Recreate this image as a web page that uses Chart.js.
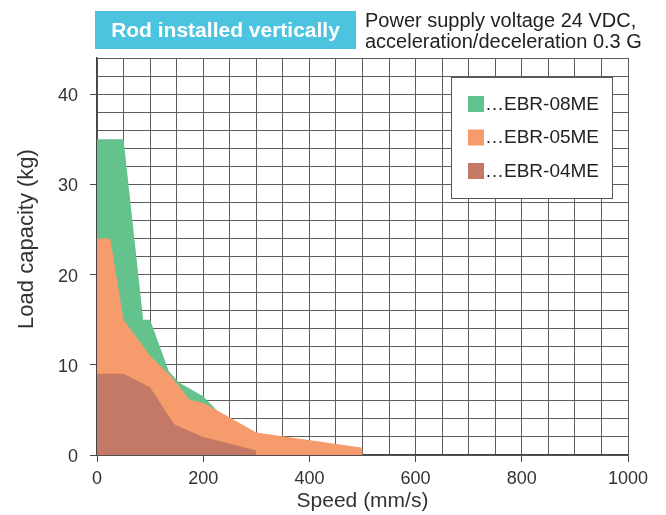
<!DOCTYPE html>
<html>
<head>
<meta charset="utf-8">
<script src="https://cdn.jsdelivr.net/npm/chart.js@4"></script>
<style>
  html, body { margin: 0; padding: 0; background: #fff; }
  #wrap { position: relative; width: 666px; height: 515px; }
  canvas { display: block; }
</style>
</head>
<body>
<div id="wrap"><canvas id="c" width="666" height="515"></canvas></div>
<script>
// ---- data ----
const seriesLabels = ['…EBR-08ME', '…EBR-05ME', '…EBR-04ME'];
const speed08 = [0, 50, 87, 100, 135, 155, 200, 225, 250];
const load08  = [35, 35, 15, 15, 9.3, 8, 6.5, 5, 4];
const speed05 = [0, 25, 50, 100, 140, 175, 200, 225, 300, 500];
const load05  = [24, 24, 15, 11, 8.7, 6.1, 5.8, 5, 2.5, 0.8];
const speed04 = [0, 50, 100, 145, 200, 300];
const load04  = [9, 9, 7.5, 3.4, 2, 0.5];
const xTickLabels = [0, 200, 400, 600, 800, 1000];
const yTickLabels = [0, 10, 20, 30, 40];
const titleText = 'Rod installed vertically';
const noteLines = ['Power supply voltage 24 VDC,', 'acceleration/deceleration 0.3 G'];
const xTitle = 'Speed (mm/s)';
const yTitle = 'Load capacity (kg)';

const colors = ['#64C28D', '#F59B6C', '#C47966'];
const FONT = '"Liberation Sans", Arial, sans-serif';

function pts(xs, ys) { return xs.map((x, i) => ({ x: x, y: ys[i] })); }

const datasets = [
  { label: seriesLabels[0], data: pts(speed08, load08), order: 2 },
  { label: seriesLabels[1], data: pts(speed05, load05), order: 1 },
  { label: seriesLabels[2], data: pts(speed04, load04), order: 0 }
].map((d, i) => Object.assign(d, {
  backgroundColor: colors[i],
  borderColor: colors[i],
  borderWidth: 0,
  pointRadius: 0,
  tension: 0,
  fill: 'origin'
}));

const headerPlugin = {
  id: 'header',
  afterDraw(chart) {
    const ctx = chart.ctx;
    ctx.save();
    // title box
    ctx.fillStyle = '#4CC4E0';
    ctx.fillRect(95, 11, 261, 38);
    ctx.fillStyle = '#ffffff';
    ctx.font = 'bold 21px ' + FONT;
    ctx.textAlign = 'center';
    ctx.textBaseline = 'middle';
    ctx.fillText(titleText, 225.5, 31);
    // note
    ctx.fillStyle = '#222';
    ctx.font = '20px ' + FONT;
    ctx.textAlign = 'left';
    ctx.textBaseline = 'alphabetic';
    ctx.fillText(noteLines[0], 365, 27);
    ctx.fillText(noteLines[1], 365, 48);

    // y axis title
    ctx.save();
    ctx.translate(27, 239);
    ctx.rotate(-Math.PI / 2);
    ctx.fillStyle = '#333';
    ctx.font = '22px ' + FONT;
    ctx.textAlign = 'center';
    ctx.textBaseline = 'middle';
    ctx.fillText(yTitle, 0, 0);
    ctx.restore();

    // legend box
    const bx = 451, by = 77, bw = 161, bh = 121;
    ctx.fillStyle = '#fff';
    ctx.fillRect(bx, by, bw, bh);
    ctx.strokeStyle = '#555';
    ctx.lineWidth = 1;
    ctx.strokeRect(bx + 0.5, by + 0.5, bw, bh);
    ctx.font = '19px ' + FONT;
    ctx.textAlign = 'left';
    ctx.textBaseline = 'middle';
    chart.data.datasets.forEach((ds, i) => {
      const y = 96 + i * 33.5;
      ctx.fillStyle = ds.backgroundColor;
      ctx.fillRect(468, y, 16, 16);
      ctx.fillStyle = '#222';
      ctx.fillText(ds.label, 485, y + 8.5);
    });
    ctx.restore();
  }
};

new Chart(document.getElementById('c'), {
  type: 'line',
  data: { datasets: datasets },
  options: {
    responsive: false,
    animation: false,
    devicePixelRatio: 1,
    layout: { padding: { top: 58, right: 38, left: 0, bottom: 0 } },
    plugins: {
      legend: { display: false },
      tooltip: { enabled: false },
      title: { display: false }
    },
    scales: {
      x: {
        type: 'linear',
        min: 0, max: 1000,
        afterFit(s) { s.height = 60; },
        ticks: {
          stepSize: 50,
          autoSkip: false,
          maxRotation: 0,
          padding: 6,
          color: '#333',
          font: { family: FONT, size: 18 },
          callback: v => xTickLabels.includes(v) ? String(v) : ''
        },
        grid: {
          color: '#5c5c5c',
          lineWidth: 1,
          tickLength: 7,
          tickColor: c => (c.tick && xTickLabels.includes(c.tick.value)) ? '#444' : 'rgba(0,0,0,0)'
        },
        border: { color: '#444', width: 1.5 },
        title: {
          display: true, text: xTitle, color: '#333',
          font: { family: FONT, size: 21 },
          padding: { top: 0, bottom: 1 }
        }
      },
      y: {
        min: 0, max: 44,
        afterFit(s) { s.width = 97; },
        ticks: {
          stepSize: 2,
          autoSkip: false,
          padding: 12,
          labelOffset: 2,
          color: '#333',
          font: { family: FONT, size: 18 },
          callback: v => yTickLabels.includes(v) ? String(v) : ''
        },
        grid: {
          color: '#5c5c5c',
          lineWidth: 1,
          tickLength: 7,
          tickColor: c => (c.tick && yTickLabels.includes(c.tick.value)) ? '#444' : 'rgba(0,0,0,0)'
        },
        border: { color: '#444', width: 1.5 },
        title: { display: false }
      }
    }
  },
  plugins: [headerPlugin]
});
</script>
</body>
</html>
